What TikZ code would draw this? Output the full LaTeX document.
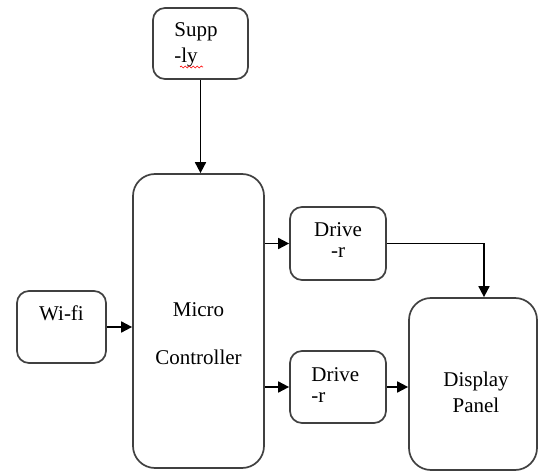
\documentclass[tikz,border=0pt]{standalone}
\usepackage{fontspec}
\setmainfont{Liberation Serif}
\usetikzlibrary{arrows.meta,positioning,decorations.pathmorphing}

\begin{document}
\begin{tikzpicture}[x=1pt, y=1pt, font=\fontsize{21}{26}\selectfont,
  box/.style={draw=black!75, line width=1.7pt, rounded corners=12pt},
  bigbox/.style={box, rounded corners=22pt},
  txt/.style={inner sep=0pt, align=center},
  link/.style={-{Triangle[length=11pt,width=11pt]}, line width=1.7pt}]
  \useasboundingbox (0,0) rectangle (539,472);
  % boxes
  \node[bigbox, minimum width=131pt, minimum height=294pt] (mc) at (198.5,151) {};
  \node[box, minimum width=95pt, minimum height=71pt] (sup) at (200.5,428.5) {};
  \node[box, minimum width=96pt, minimum height=73pt] (drv1) at (338,228.5) {};
  \node[box, minimum width=96pt, minimum height=72pt] (drv2) at (338,85) {};
  \node[box, minimum width=89pt, minimum height=72pt] (wifi) at (61.5,145) {};
  \node[bigbox, minimum width=128pt, minimum height=172pt] (disp) at (473,88) {};
  % texts
  \node[txt, align=left, below right=15pt and 22pt of sup.north west] (suptxt) {Supp\\-ly};
  \node[txt, below=129pt of mc.north] (mctxt) {Micro\\[22pt]Controller};
  \node[txt, below=16pt of drv1.north] (drv1txt) {Drive\\[-5pt]-r};
  \node[txt, align=left, below right=17pt and 22pt of drv2.north west] (drv2txt) {Drive\\[-5pt]-r};
  \node[txt, below=15pt of wifi.north] (wifitxt) {Wi-fi};
  \node[txt, below=75pt of disp.north, xshift=3pt] (disptxt) {Display\\Panel};
  \draw[red, line width=0.7pt, decorate, decoration={snake, amplitude=1pt, segment length=4pt}] (180,405) -- (203,405);
  % links
  \draw[link] (sup.south) -- (sup.south |- mc.north);
  \draw[link] (mc.east |- drv1) -- (drv1);
  \draw[link] (mc.east |- drv2) -- (drv2);
  \draw[link] (wifi) -- (wifi -| mc.west);
  \draw[link] (drv1) -| ([xshift=11pt]disp.north);
  \draw[link] (drv2) -- (drv2 -| disp.west);
\end{tikzpicture}
\end{document}
